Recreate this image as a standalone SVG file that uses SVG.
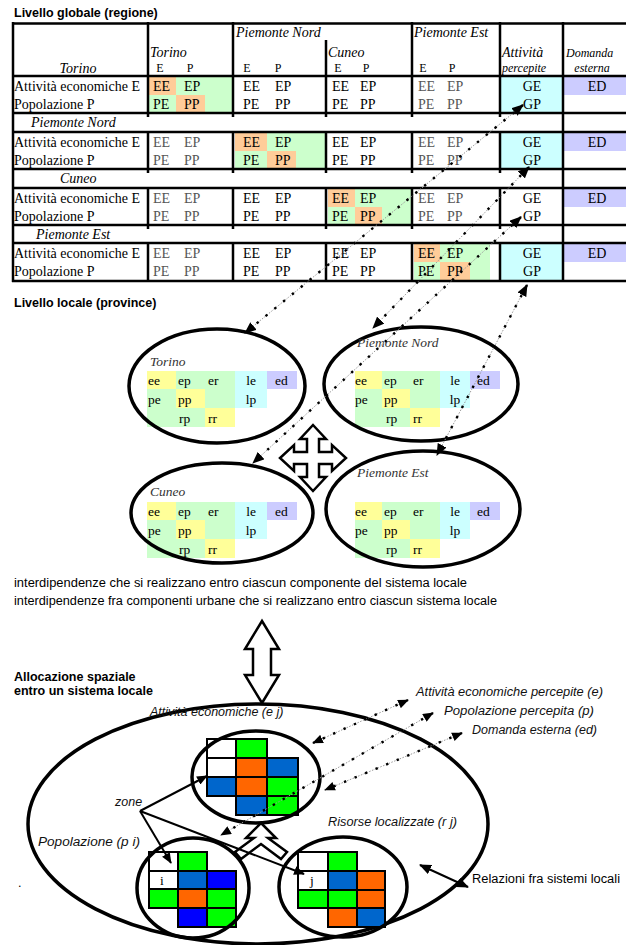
<svg xmlns="http://www.w3.org/2000/svg" width="626" height="945" viewBox="0 0 626 945">
<style>
  .t { font-family: "Liberation Serif", "Times New Roman", serif; font-size: 14px; fill: #000; }
  .ti { font-family: "Liberation Serif", "Times New Roman", serif; font-size: 14px; font-style: italic; fill: #000; }
  .ts { font-family: "Liberation Serif", "Times New Roman", serif; font-size: 12px; fill: #000; }
  .tsi { font-family: "Liberation Serif", "Times New Roman", serif; font-size: 12px; font-style: italic; fill: #000; }
  .lt { fill: #555; }
  .b { font-family: "Liberation Sans", Arial, sans-serif; font-size: 12.5px; font-weight: bold; fill: #000; }
  .s { font-family: "Liberation Sans", Arial, sans-serif; font-size: 12.5px; fill: #000; }
  .si { font-family: "Liberation Sans", Arial, sans-serif; font-size: 12.5px; font-style: italic; fill: #111; }
  .lc { font-family: "Liberation Serif", "Times New Roman", serif; font-size: 13.5px; fill: #000; }
  .lci { font-family: "Liberation Serif", "Times New Roman", serif; font-size: 13.5px; font-style: italic; fill: #333; }
  .grid { stroke: #000; stroke-width: 2.5; fill: none; }
  .ell { fill: none; stroke: #000; stroke-width: 3.5; }
  .or { fill: #ffcc99; } .gr { fill: #ccffcc; } .cy { fill: #ccffff; } .lv { fill: #ccccff; } .ye { fill: #ffff99; }
  .dotg { stroke: #999; stroke-width: 1; stroke-dasharray: 1.5 1.5; fill: none; }
  .dotb { stroke: #000; stroke-width: 2.4; stroke-dasharray: 2.4 9; fill: none; }
  .sol { stroke: #000; stroke-width: 2; fill: none; }
  .out { fill: #fff; stroke: #000; stroke-width: 2.5; stroke-linejoin: miter; }
  .c { stroke: #000; stroke-width: 2; }
  .G { fill: #00ff00; } .O { fill: #ff6600; } .B { fill: #0066cc; } .D { fill: #0000ff; } .W { fill: #fff; }
</style>
<defs>
  <marker id="ah" viewBox="0 0 12 10" refX="11" refY="5" markerWidth="12" markerHeight="10" markerUnits="userSpaceOnUse" orient="auto-start-reverse">
    <path d="M0,0 L12,5 L0,10 z" fill="#000"/>
  </marker>
  <marker id="ahs" viewBox="0 0 12 10" refX="11" refY="5" markerWidth="11" markerHeight="9" markerUnits="userSpaceOnUse" orient="auto-start-reverse">
    <path d="M0,0 L12,5 L0,10 z" fill="#000"/>
  </marker>
</defs>
<rect width="626" height="945" fill="#fff"/>

<!-- Global level table -->
<g id="global-table">
  <text class="b" x="14" y="17">Livello globale  (regione)</text>

  <!-- cell fills -->
  <g id="fills">
    <!-- Torino block -->
    <rect class="or" x="149" y="77" width="27" height="18"/>
    <rect class="gr" x="176" y="77" width="56" height="18"/>
    <rect class="gr" x="149" y="95" width="27" height="17"/>
    <rect class="or" x="176" y="95" width="29" height="17"/>
    <rect class="gr" x="205" y="95" width="27" height="17"/>
    <rect class="cy" x="501" y="77" width="61" height="35"/>
    <rect class="lv" x="564" y="77" width="62" height="18"/>
    <!-- Piemonte Nord block -->
    <rect class="or" x="235" y="133" width="32" height="18"/>
    <rect class="gr" x="267" y="133" width="58" height="18"/>
    <rect class="gr" x="235" y="151" width="32" height="17"/>
    <rect class="or" x="267" y="151" width="29" height="17"/>
    <rect class="gr" x="296" y="151" width="29" height="17"/>
    <rect class="cy" x="501" y="133" width="61" height="35"/>
    <rect class="lv" x="564" y="133" width="62" height="18"/>
    <!-- Cuneo block -->
    <rect class="or" x="328" y="189" width="27" height="18"/>
    <rect class="gr" x="355" y="189" width="56" height="18"/>
    <rect class="gr" x="328" y="207" width="27" height="17"/>
    <rect class="or" x="355" y="207" width="27" height="17"/>
    <rect class="gr" x="382" y="207" width="29" height="17"/>
    <rect class="lv" x="564" y="189" width="62" height="18"/>
    <!-- Piemonte Est block -->
    <rect class="or" x="414" y="244" width="26" height="18"/>
    <rect class="gr" x="440" y="244" width="50" height="18"/>
    <rect class="gr" x="414" y="262" width="26" height="18"/>
    <rect class="or" x="440" y="262" width="30" height="18"/>
    <rect class="gr" x="470" y="262" width="20" height="18"/>
    <rect class="cy" x="501" y="244" width="61" height="36"/>
    <rect class="lv" x="564" y="244" width="62" height="18"/>
  </g>

  <!-- rules -->
  <g class="grid">
    <path d="M12,23.5 H626 M12,76 H626 M12,113 H626 M12,132 H626 M12,169 H626 M12,188 H626 M12,225 H626 M12,243 H626 M12,281 H626"/>
    <path d="M13,22 V282 M563,22 V282"/>
    <path d="M148,22 V113 M233,22 V113 M412,22 V113 M500,22 V113 M326,40 V113"/>
    <path d="M148,132 V169 M233,132 V169 M326,132 V169 M412,132 V169 M500,132 V169"/>
    <path d="M148,188 V225 M233,188 V225 M326,188 V225 M412,188 V225 M500,188 V225"/>
    <path d="M148,243 V282 M233,243 V282 M326,243 V282 M412,243 V282 M500,243 V282"/>
    <path d="M148,113 V117 M233,113 V117 M326,113 V117 M412,113 V117 M500,113 V117 M148,169 V173 M233,169 V173 M326,169 V173 M412,169 V173 M500,169 V173 M148,225 V229 M233,225 V229 M326,225 V229 M412,225 V229 M500,225 V229"/>
  </g>

  <!-- header -->
  <text class="ti" x="78" y="73" text-anchor="middle">Torino</text>
  <text class="ti" x="150" y="57">Torino</text>
  <text class="ti" x="236" y="37">Piemonte Nord</text>
  <text class="ti" x="328" y="57">Cuneo</text>
  <text class="ti" x="414" y="37">Piemonte Est</text>
  <text class="ti" x="502" y="57">Attività</text>
  <text class="tsi" x="502" y="72">percepite</text>
  <text class="tsi" x="566" y="57">Domanda</text>
  <text class="tsi" x="592" y="72" text-anchor="middle">esterna</text>
  <g class="ts" text-anchor="middle">
    <text x="160" y="72">E</text><text x="190" y="72">P</text>
    <text x="247" y="72">E</text><text x="278" y="72">P</text>
    <text x="338" y="72">E</text><text x="366" y="72">P</text>
    <text x="423" y="72">E</text><text x="452" y="72">P</text>
  </g>

  <!-- separator rows -->
  <text class="ti" x="31" y="127">Piemonte Nord</text>
  <text class="ti" x="60" y="183">Cuneo</text>
  <text class="ti" x="36" y="239">Piemonte Est</text>

  <!-- data rows -->
  <g class="t">
    <text x="14" y="91">Attività economiche E</text><text x="14" y="109">Popolazione P</text>
    <text x="14" y="147">Attività economiche E</text><text x="14" y="165">Popolazione P</text>
    <text x="14" y="203">Attività economiche E</text><text x="14" y="221">Popolazione P</text>
    <text x="14" y="258">Attività economiche E</text><text x="14" y="276">Popolazione P</text>
  </g>
  <!-- Torino column -->
  <g class="t">
    <text x="153" y="91">EE</text><text x="184" y="91">EP</text><text x="153" y="109">PE</text><text x="184" y="109">PP</text>
  </g>
  <g class="t lt">
    <text x="153" y="147">EE</text><text x="184" y="147">EP</text><text x="153" y="165">PE</text><text x="184" y="165">PP</text>
    <text x="153" y="203">EE</text><text x="184" y="203">EP</text><text x="153" y="221">PE</text><text x="184" y="221">PP</text>
    <text x="153" y="258">EE</text><text x="184" y="258">EP</text><text x="153" y="276">PE</text><text x="184" y="276">PP</text>
  </g>
  <!-- Piemonte Nord column -->
  <g class="t">
    <text x="243" y="91">EE</text><text x="275" y="91">EP</text><text x="243" y="109">PE</text><text x="275" y="109">PP</text>
    <text x="243" y="147">EE</text><text x="275" y="147">EP</text><text x="243" y="165">PE</text><text x="275" y="165">PP</text>
    <text x="243" y="203">EE</text><text x="275" y="203">EP</text><text x="243" y="221">PE</text><text x="275" y="221">PP</text>
    <text x="243" y="258">EE</text><text x="275" y="258">EP</text><text x="243" y="276">PE</text><text x="275" y="276">PP</text>
  </g>
  <!-- Cuneo column -->
  <g class="t">
    <text x="332" y="91">EE</text><text x="360" y="91">EP</text><text x="332" y="109">PE</text><text x="360" y="109">PP</text>
    <text x="332" y="147">EE</text><text x="360" y="147">EP</text><text x="332" y="165">PE</text><text x="360" y="165">PP</text>
    <text x="332" y="203">EE</text><text x="360" y="203">EP</text><text x="332" y="221">PE</text><text x="360" y="221">PP</text>
    <text x="332" y="258">EE</text><text x="360" y="258">EP</text><text x="332" y="276">PE</text><text x="360" y="276">PP</text>
  </g>
  <!-- Piemonte Est column -->
  <g class="t lt">
    <text x="418" y="91">EE</text><text x="447" y="91">EP</text><text x="418" y="109">PE</text><text x="447" y="109">PP</text>
    <text x="418" y="147">EE</text><text x="447" y="147">EP</text><text x="418" y="165">PE</text><text x="447" y="165">PP</text>
    <text x="418" y="203">EE</text><text x="447" y="203">EP</text><text x="418" y="221">PE</text><text x="447" y="221">PP</text>
  </g>
  <g class="t">
    <text x="418" y="258">EE</text><text x="447" y="258">EP</text><text x="418" y="276">PE</text><text x="447" y="276">PP</text>
  </g>
  <!-- perceived / external -->
  <g class="t" text-anchor="middle">
    <text x="532" y="91">GE</text><text x="532" y="109">GP</text>
    <text x="532" y="147">GE</text><text x="532" y="165">GP</text>
    <text x="532" y="203">GE</text><text x="532" y="221">GP</text>
    <text x="532" y="258">GE</text><text x="532" y="276">GP</text>
    <text x="597" y="91">ED</text><text x="597" y="147">ED</text><text x="597" y="203">ED</text><text x="597" y="258">ED</text>
  </g>
</g>

<!-- Local level -->
<text class="b" x="14" y="307">Livello locale (province)</text>

<g id="loc-torino">
  <rect class="ye" x="147" y="371" width="29" height="18"/><rect class="gr" x="176" y="371" width="59" height="18"/><rect class="cy" x="235" y="371" width="32" height="18"/><rect class="lv" x="267" y="371" width="30" height="18"/>
  <rect class="gr" x="147" y="389" width="29" height="19"/><rect class="ye" x="176" y="389" width="29" height="19"/><rect class="gr" x="205" y="389" width="30" height="19"/><rect class="cy" x="235" y="389" width="32" height="19"/>
  <rect class="gr" x="147" y="408" width="58" height="19"/><rect class="ye" x="205" y="408" width="30" height="19"/>
  <ellipse class="ell" cx="217" cy="386" rx="88" ry="57"/>
  <text class="lci" x="150" y="366">Torino</text>
  <g class="lc"><text x="148" y="385">ee</text><text x="178" y="385">ep</text><text x="208" y="385">er</text><text x="251" y="385" text-anchor="middle">le</text><text x="275" y="385">ed</text>
  <text x="148" y="404">pe</text><text x="178" y="404">pp</text><text x="251" y="404" text-anchor="middle">lp</text>
  <text x="179" y="423">rp</text><text x="208" y="423">rr</text></g>
</g>

<g id="loc-piemonte-nord">
  <rect class="ye" x="355" y="371" width="27" height="18"/><rect class="gr" x="382" y="371" width="58" height="18"/><rect class="cy" x="440" y="371" width="30" height="18"/><rect class="lv" x="470" y="371" width="30" height="18"/>
  <rect class="gr" x="355" y="389" width="27" height="19"/><rect class="ye" x="382" y="389" width="28" height="19"/><rect class="gr" x="410" y="389" width="30" height="19"/><rect class="cy" x="440" y="389" width="30" height="19"/>
  <rect class="gr" x="355" y="408" width="55" height="19"/><rect class="ye" x="410" y="408" width="30" height="19"/>
  <ellipse class="ell" cx="421" cy="384" rx="97" ry="57"/>
  <text class="lci" x="357" y="347">Piemonte Nord</text>
  <g class="lc"><text x="355" y="385">ee</text><text x="384" y="385">ep</text><text x="413" y="385">er</text><text x="455" y="385" text-anchor="middle">le</text><text x="477" y="385">ed</text>
  <text x="355" y="404">pe</text><text x="384" y="404">pp</text><text x="455" y="404" text-anchor="middle">lp</text>
  <text x="386" y="423">rp</text><text x="413" y="423">rr</text></g>
</g>

<g id="loc-cuneo">
  <rect class="ye" x="147" y="502" width="29" height="18"/><rect class="gr" x="176" y="502" width="59" height="18"/><rect class="cy" x="235" y="502" width="32" height="18"/><rect class="lv" x="267" y="502" width="30" height="18"/>
  <rect class="gr" x="147" y="520" width="29" height="19"/><rect class="ye" x="176" y="520" width="29" height="19"/><rect class="gr" x="205" y="520" width="30" height="19"/><rect class="cy" x="235" y="520" width="32" height="19"/>
  <rect class="gr" x="147" y="539" width="58" height="19"/><rect class="ye" x="205" y="539" width="30" height="19"/>
  <ellipse class="ell" cx="222" cy="513" rx="91" ry="50"/>
  <text class="lci" x="150" y="496">Cuneo</text>
  <g class="lc"><text x="148" y="516">ee</text><text x="178" y="516">ep</text><text x="208" y="516">er</text><text x="251" y="516" text-anchor="middle">le</text><text x="275" y="516">ed</text>
  <text x="148" y="535">pe</text><text x="178" y="535">pp</text><text x="251" y="535" text-anchor="middle">lp</text>
  <text x="179" y="554">rp</text><text x="208" y="554">rr</text></g>
</g>

<g id="loc-piemonte-est">
  <rect class="ye" x="355" y="502" width="27" height="18"/><rect class="gr" x="382" y="502" width="58" height="18"/><rect class="cy" x="440" y="502" width="30" height="18"/><rect class="lv" x="470" y="502" width="30" height="18"/>
  <rect class="gr" x="355" y="520" width="27" height="19"/><rect class="ye" x="382" y="520" width="28" height="19"/><rect class="gr" x="410" y="520" width="30" height="19"/><rect class="cy" x="440" y="520" width="30" height="19"/>
  <rect class="gr" x="355" y="539" width="55" height="19"/><rect class="ye" x="410" y="539" width="30" height="19"/>
  <ellipse class="ell" cx="423" cy="509" rx="97" ry="58"/>
  <text class="lci" x="357" y="477">Piemonte Est</text>
  <g class="lc"><text x="355" y="516">ee</text><text x="384" y="516">ep</text><text x="413" y="516">er</text><text x="455" y="516" text-anchor="middle">le</text><text x="477" y="516">ed</text>
  <text x="355" y="535">pe</text><text x="384" y="535">pp</text><text x="455" y="535" text-anchor="middle">lp</text>
  <text x="386" y="554">rp</text><text x="413" y="554">rr</text></g>
</g>

<!-- four-way interaction arrow -->
<g id="four-way-arrow">
  <path class="out" d="M313,425 L326,439 L319,439 L319,452 L332,452 L332,445 L346,458 L332,471 L332,464 L319,464 L319,477 L326,477 L313,491 L300,477 L307,477 L307,464 L294,464 L294,471 L280,458 L294,445 L294,452 L307,452 L307,439 L300,439 Z"/>
</g>

<!-- dotted links between regional and provincial levels -->
<g id="connectors-global">
  <line class="dotg" x1="523" y1="105" x2="245" y2="333"/><line class="dotb" x1="523" y1="105" x2="245" y2="333" marker-start="url(#ah)" marker-end="url(#ah)"/>
  <line class="dotg" x1="529" y1="167" x2="373" y2="328"/><line class="dotb" x1="529" y1="167" x2="373" y2="328" marker-start="url(#ah)" marker-end="url(#ah)"/>
  <line class="dotg" x1="521" y1="217" x2="253" y2="463"/><line class="dotb" x1="521" y1="217" x2="253" y2="463" marker-start="url(#ah)" marker-end="url(#ah)"/>
  <line class="dotg" x1="527" y1="285" x2="437" y2="455"/><line class="dotb" x1="527" y1="285" x2="437" y2="455" marker-start="url(#ah)" marker-end="url(#ah)"/>
</g>

<!-- interdependence captions -->
<text class="s" x="14" y="587" textLength="453" lengthAdjust="spacingAndGlyphs">interdipendenze che si realizzano entro ciascun componente del sistema locale</text>
<text class="s" x="14" y="605" textLength="483" lengthAdjust="spacingAndGlyphs">interdipendenze fra componenti urbane che si realizzano entro ciascun sistema locale</text>

<!-- link between local and spatial levels -->
<g id="vertical-arrow">
  <path class="out" d="M262,621 L279,649 L271,649 L271,675 L279,675 L262,703 L245,675 L253,675 L253,649 L245,649 Z"/>
</g>

<!-- Spatial allocation -->
<text class="b" x="14" y="681">Allocazione spaziale</text>
<text class="b" x="14" y="695">entro un sistema locale</text>

<g id="local-system">
  <ellipse class="ell" cx="258" cy="824" rx="230" ry="120" stroke-width="3"/>
</g>

<g id="zone-econ">
  <rect class="c W" x="207" y="739" width="29" height="19"/>
  <rect class="c G" x="236" y="739" width="31" height="19"/>
  <rect class="c W" x="207" y="758" width="29" height="19"/>
  <rect class="c O" x="236" y="758" width="31" height="19"/>
  <rect class="c B" x="267" y="758" width="31" height="19"/>
  <rect class="c B" x="207" y="777" width="29" height="19"/>
  <rect class="c O" x="236" y="777" width="31" height="19"/>
  <rect class="c G" x="267" y="777" width="31" height="19"/>
  <rect class="c B" x="236" y="796" width="31" height="19"/>
  <rect class="c G" x="267" y="796" width="31" height="19"/>
  <ellipse class="ell" cx="256" cy="777" rx="64" ry="46"/>
</g>

<g id="zone-pop">
  <rect class="c W" x="149" y="852" width="29" height="19"/>
  <rect class="c G" x="178" y="852" width="29" height="19"/>
  <rect class="c W" x="149" y="871" width="29" height="18"/>
  <rect class="c B" x="178" y="871" width="29" height="18"/>
  <rect class="c D" x="207" y="871" width="29" height="18"/>
  <rect class="c G" x="149" y="889" width="29" height="19"/>
  <rect class="c O" x="178" y="889" width="29" height="19"/>
  <rect class="c G" x="207" y="889" width="29" height="19"/>
  <rect class="c D" x="178" y="908" width="29" height="19"/>
  <rect class="c G" x="207" y="908" width="29" height="19"/>
  <text class="lc" x="162" y="885" text-anchor="middle">i</text>
  <ellipse class="ell" cx="193" cy="888" rx="56" ry="50"/>
</g>

<g id="zone-res">
  <rect class="c W" x="298" y="852" width="30" height="19"/>
  <rect class="c G" x="328" y="852" width="29" height="19"/>
  <rect class="c W" x="298" y="871" width="30" height="19"/>
  <rect class="c B" x="328" y="871" width="29" height="19"/>
  <rect class="c O" x="357" y="871" width="28" height="19"/>
  <rect class="c G" x="298" y="890" width="30" height="18"/>
  <rect class="c G" x="328" y="890" width="29" height="18"/>
  <rect class="c O" x="357" y="890" width="28" height="18"/>
  <rect class="c O" x="328" y="908" width="29" height="19"/>
  <rect class="c B" x="357" y="908" width="28" height="19"/>
  <text class="lc" x="312" y="885" text-anchor="middle">j</text>
  <ellipse class="ell" cx="343" cy="887" rx="64" ry="50"/>
</g>

<!-- three-way interaction arrow between zones -->
<g id="zone-arrow">
  <path class="out" d="M261,823 L276,838 L268,838 L287,852 L281,859 L261,844 L241,859 L235,852 L254,838 L246,838 Z"/>
</g>

<!-- labels -->
<text class="si" x="150" y="716" font-size="11.5">Attività economiche (e j)</text>
<text class="si" x="115" y="806" font-size="13">zone</text>
<text class="si" x="38" y="846" textLength="102" lengthAdjust="spacingAndGlyphs">Popolazione (p i)</text>
<text class="si" x="328" y="826" textLength="129" lengthAdjust="spacingAndGlyphs">Risorse localizzate (r j)</text>
<text class="si" x="416" y="696" textLength="187" lengthAdjust="spacingAndGlyphs">Attività economiche percepite (e)</text>
<text class="si" x="444" y="715" textLength="150" lengthAdjust="spacingAndGlyphs">Popolazione percepita (p)</text>
<text class="si" x="472" y="734" textLength="125" lengthAdjust="spacingAndGlyphs">Domanda esterna (ed)</text>
<text class="s" x="472" y="883" textLength="148" lengthAdjust="spacingAndGlyphs">Relazioni fra sistemi locali</text>
<text class="s" x="18" y="887">.</text>

<g id="connectors-local">
  <line class="dotg" x1="408" y1="700" x2="313" y2="743"/><line class="dotb" x1="408" y1="700" x2="313" y2="743" marker-start="url(#ahs)" marker-end="url(#ahs)"/>
  <line class="dotg" x1="433" y1="713" x2="221" y2="835"/><line class="dotb" x1="433" y1="713" x2="221" y2="835" marker-start="url(#ahs)" marker-end="url(#ahs)"/>
  <line class="dotg" x1="462" y1="733" x2="325" y2="790"/><line class="dotb" x1="462" y1="733" x2="325" y2="790" marker-start="url(#ahs)" marker-end="url(#ahs)"/>
  <line class="sol" x1="140" y1="811" x2="207" y2="776" marker-end="url(#ahs)"/>
  <line class="sol" x1="140" y1="811" x2="171" y2="863" marker-end="url(#ahs)"/>
  <line class="sol" x1="140" y1="811" x2="304" y2="874" marker-end="url(#ahs)"/>
  <line class="sol" x1="420" y1="865" x2="468" y2="887" stroke-width="2.5" marker-start="url(#ah)" marker-end="url(#ah)"/>
</g>
</svg>
